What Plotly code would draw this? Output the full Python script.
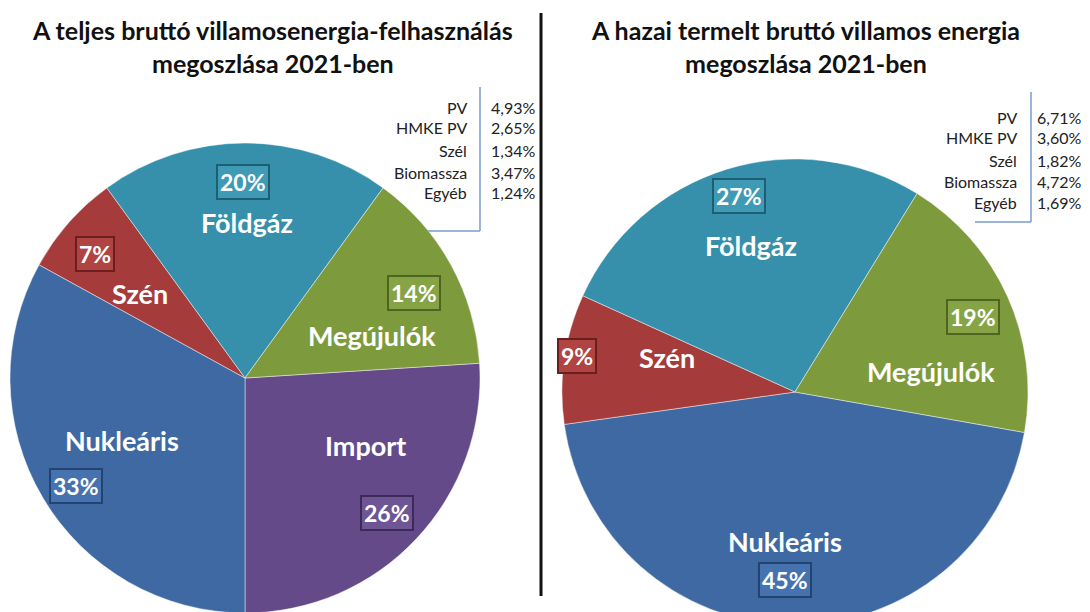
import plotly.graph_objects as go

W, H = 1090, 640

# ---------------- data ----------------
left_title = "A teljes bruttó villamosenergia-felhasználás<br>megoszlása 2021-ben"
right_title = "A hazai termelt bruttó villamos energia<br>megoszlása 2021-ben"

left_labels = ["Import", "Nukleáris", "Szén", "Földgáz", "Megújulók"]
left_values = [26, 33, 7, 20, 14]

right_labels = ["Nukleáris", "Szén", "Földgáz", "Megújulók"]
right_values = [45, 9, 27, 19]

renew_names = ["PV", "HMKE PV", "Szél", "Biomassza", "Egyéb"]
left_renew = ["4,93%", "2,65%", "1,34%", "3,47%", "1,24%"]
right_renew = ["6,71%", "3,60%", "1,82%", "4,72%", "1,69%"]

colors = {
    "Import": "#654A8A",
    "Nukleáris": "#3E69A3",
    "Szén": "#A53B3A",
    "Földgáz": "#3690AB",
    "Megújulók": "#7D9A3D",
}
box_fill = {
    "Import": "#6E5596",
    "Nukleáris": "#4673AF",
    "Szén": "#AF4442",
    "Földgáz": "#3E9AB5",
    "Megújulók": "#86A446",
}
box_line = {
    "Import": "#3E2A5A",
    "Nukleáris": "#234470",
    "Szén": "#6A1F1E",
    "Földgáz": "#1E5E72",
    "Megújulók": "#4E6420",
}

def px(x):
    return x / W

def py(y):
    return 1 - y / H

fig = go.Figure()

fig.add_trace(go.Pie(
    labels=left_labels, values=left_values, sort=False, direction="clockwise",
    rotation=86.4, textinfo="none", hoverinfo="label+percent",
    marker=dict(colors=[colors[l] for l in left_labels],
                line=dict(color="rgba(255,255,255,0.45)", width=1)),
    domain=dict(x=[px(10), px(480)], y=[py(613), py(143)]),
    showlegend=False,
))
fig.add_trace(go.Pie(
    labels=right_labels, values=right_values, sort=False, direction="clockwise",
    rotation=100, textinfo="none", hoverinfo="label+percent",
    marker=dict(colors=[colors[l] for l in right_labels],
                line=dict(color="rgba(255,255,255,0.45)", width=1)),
    domain=dict(x=[px(562), px(1028)], y=[py(625), py(159)]),
    showlegend=False,
))

FONT = "Lato, Carlito, Calibri, sans-serif"
ann = []

# titles
ann.append(dict(x=px(272), y=py(46), text="<b>" + left_title + "</b>", showarrow=False,
                font=dict(family=FONT, size=25, color="#111111"), xanchor="center", yanchor="middle",
                align="center"))
ann.append(dict(x=px(805), y=py(46), text="<b>" + right_title + "</b>", showarrow=False,
                font=dict(family=FONT, size=25, color="#111111"), xanchor="center", yanchor="middle",
                align="center"))

# slice names
def name_ann(name, x, y, size=27):
    ann.append(dict(x=px(x), y=py(y), text="<b>" + name + "</b>", showarrow=False,
                    font=dict(family=FONT, size=size, color="white"),
                    xanchor="center", yanchor="middle"))

def pct_ann(name, value, x, y):
    ann.append(dict(x=px(x), y=py(y), text="<b>%d%%</b>" % value, showarrow=False,
                    font=dict(family=FONT, size=23, color="white"),
                    bgcolor=box_fill[name], bordercolor=box_line[name], borderwidth=2,
                    borderpad=2, xanchor="center", yanchor="middle"))

left_name_pos = {"Import": (365, 445), "Nukleáris": (122, 440), "Szén": (140, 293),
                 "Földgáz": (247, 223), "Megújulók": (372, 335)}
left_pct_pos = {"Import": (387, 513), "Nukleáris": (76, 486), "Szén": (95, 254),
                "Földgáz": (243, 182), "Megújulók": (414, 293)}
for lab, val in zip(left_labels, left_values):
    name_ann(lab, *left_name_pos[lab])
    pct_ann(lab, val, *left_pct_pos[lab])

right_name_pos = {"Nukleáris": (785, 541), "Szén": (667, 357), "Földgáz": (751, 245),
                  "Megújulók": (931, 371)}
right_pct_pos = {"Nukleáris": (785, 580), "Szén": (577, 356), "Földgáz": (739, 196),
                 "Megújulók": (973, 317)}
for lab, val in zip(right_labels, right_values):
    name_ann(lab, *right_name_pos[lab])
    pct_ann(lab, val, *right_pct_pos[lab])

# renewable breakdown tables
left_rows = [107, 128, 150, 172, 193]
right_rows = [117, 138, 160, 181, 202]
TS = 16
for i, nm in enumerate(renew_names):
    ann.append(dict(x=px(469), y=py(left_rows[i]), text=nm, showarrow=False,
                    font=dict(family=FONT, size=TS, color="#222222"), xanchor="right", yanchor="middle"))
    ann.append(dict(x=px(489), y=py(left_rows[i]), text=left_renew[i], showarrow=False,
                    font=dict(family=FONT, size=TS, color="#222222"), xanchor="left", yanchor="middle"))
    ann.append(dict(x=px(1019), y=py(right_rows[i]), text=nm, showarrow=False,
                    font=dict(family=FONT, size=TS, color="#222222"), xanchor="right", yanchor="middle"))
    ann.append(dict(x=px(1035), y=py(right_rows[i]), text=right_renew[i], showarrow=False,
                    font=dict(family=FONT, size=TS, color="#222222"), xanchor="left", yanchor="middle"))

shapes = [
    # central divider
    dict(type="line", xref="paper", yref="paper", x0=px(541), x1=px(541), y0=py(13), y1=py(596),
         line=dict(color="#111111", width=3)),
    # left bracket
    dict(type="line", xref="paper", yref="paper", x0=px(480), x1=px(480), y0=py(87), y1=py(231),
         line=dict(color="#7A9CCB", width=1.5)),
    dict(type="line", xref="paper", yref="paper", x0=px(427), x1=px(480), y0=py(231), y1=py(231),
         line=dict(color="#7A9CCB", width=1.5)),
    # right bracket
    dict(type="line", xref="paper", yref="paper", x0=px(1031), x1=px(1031), y0=py(92), y1=py(222),
         line=dict(color="#7A9CCB", width=1.5)),
    dict(type="line", xref="paper", yref="paper", x0=px(975), x1=px(1031), y0=py(222), y1=py(222),
         line=dict(color="#7A9CCB", width=1.5)),
]

fig.update_layout(
    width=W, height=H,
    margin=dict(l=0, r=0, t=0, b=0),
    paper_bgcolor="white", plot_bgcolor="white",
    annotations=ann, shapes=shapes,
    showlegend=False,
)

fig.write_html("out.html", config={"displayModeBar": False},
               post_script="document.body.style.margin='0';document.body.style.overflow='hidden';")
